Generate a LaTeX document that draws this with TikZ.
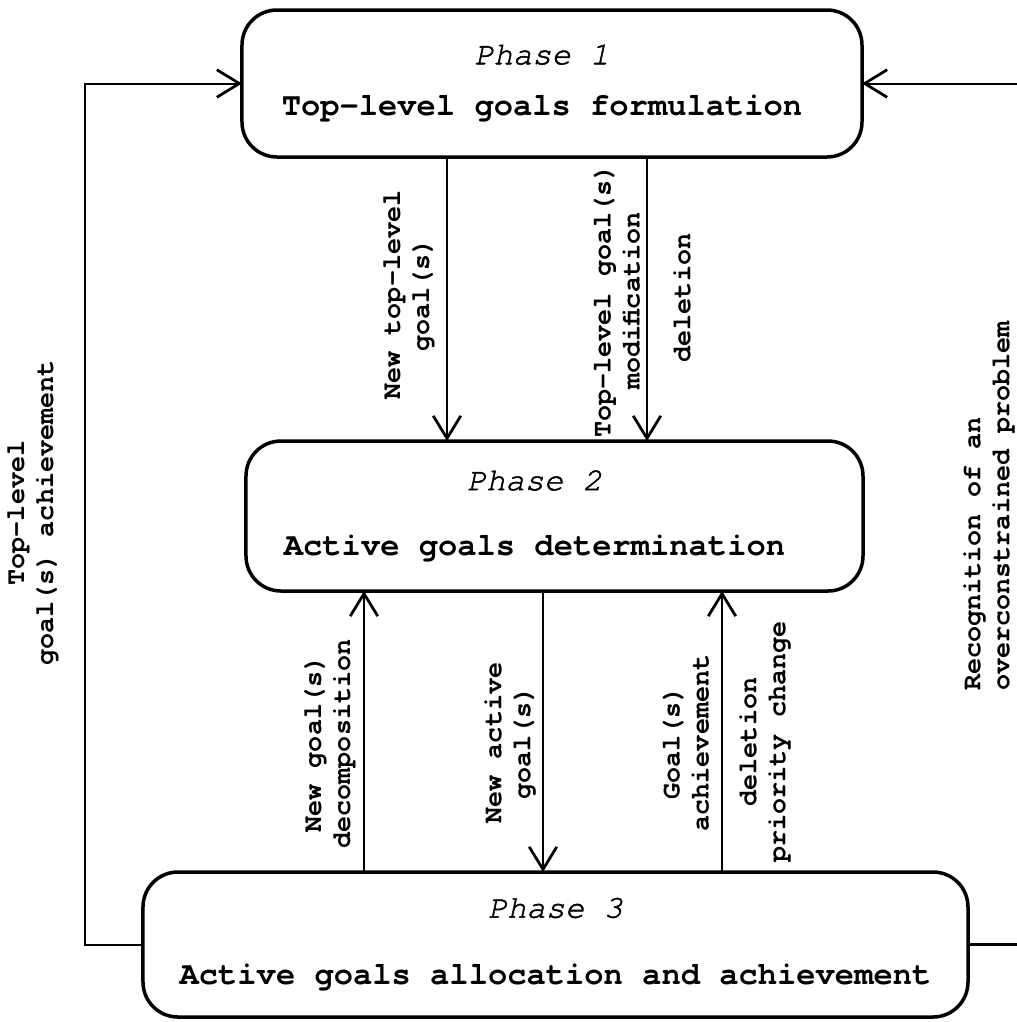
\documentclass[tikz,border=0pt]{standalone}
\usepackage{fontspec}
\setmonofont{texgyrecursor}[Extension=.otf, UprightFont=*-regular,
  BoldFont=*-bold, ItalicFont=*-italic, BoldItalicFont=*-bolditalic,
  ItalicFeatures={FakeBold=1.5}]
\usetikzlibrary{positioning, arrows.meta}

\begin{document}
\begin{tikzpicture}[x=0.4pt, y=-0.4pt,
    phase/.style={draw, line width=1.4pt, rounded corners=14pt, align=center,
      inner sep=0pt, outer sep=0pt, font=\ttfamily\fontsize{12.85}{15}\selectfont},
    flow/.style={line width=0.8pt, -{Straight Barb[length=9pt, width=11pt, line width=1.1pt]}},
    link/.style={line width=1pt},
    lbl/.style={rotate=90, align=center, inner sep=0pt,
      font=\ttfamily\bfseries\fontsize{10.7}{11.6}\selectfont}]
  \useasboundingbox (0,0) rectangle (1017,1022);
  % nodes %
  \node[phase, minimum width=248pt, minimum height=58.8pt] (p1) at (552,83.5)
    {{\itshape Phase 1}\hspace*{8pt}\\[5.6pt]{\bfseries Top-level goals formulation}\hspace*{8pt}};
  \node[phase, minimum width=246.8pt, minimum height=60pt, below=113.6pt of p1, xshift=1pt] (p2)
    {{\itshape Phase 2}\hspace*{16pt}\\[11pt]{\bfseries Active goals determination}\hspace*{16pt}};
  \node[phase, minimum width=330pt, minimum height=58pt, below=112.4pt of p2, xshift=0.4pt] (p3)
    {{\itshape Phase 3}\\[11.8pt]{\bfseries Active goals allocation and achievement}};
  \coordinate (rim) at (1017,0);
  % labels %
  \node[lbl] (ntl) at (409,295) {New top-level\\goal(s)};
  \node[lbl] (tlm) at (617,301) {Top-level goal(s)\\modification};
  \node[lbl] (tld) at (682,298) {deletion};
  \node[lbl] (ngd) at (330,744) {New goal(s)\\decomposition};
  \node[lbl] (nag) at (510,743) {New active\\goal(s)};
  \node[lbl] (gach) at (686,743) {Goal(s)\\achievement};
  \node[lbl] (dpc) at (765,742) {deletion\\priority change};
  \node[lbl] (tla) at (33,513) {Top-level\\goal(s) achievement};
  \node[lbl, align=left, anchor=west] (ovp) at (989,691) {Recognition of an\\overconstrained problem};
  % edges %
  \draw[flow] (447,0 |- p1.south) -- (447,0 |- p2.north);
  \draw[flow] (647,0 |- p1.south) -- (647,0 |- p2.north);
  \draw[flow] (364,0 |- p3.north) -- (364,0 |- p2.south);
  \draw[flow] (543,0 |- p2.south) -- (543,0 |- p3.north);
  \draw[flow] (722,0 |- p3.north) -- (722,0 |- p2.south);
  \draw[flow] (p3.west) -- ++(-58,0) |- (p1.west);
  \draw[link] (p3.east) -- (p3.east -| rim);
  \draw[flow] (p1.east -| rim) -- (p1.east);
\end{tikzpicture}
\end{document}
